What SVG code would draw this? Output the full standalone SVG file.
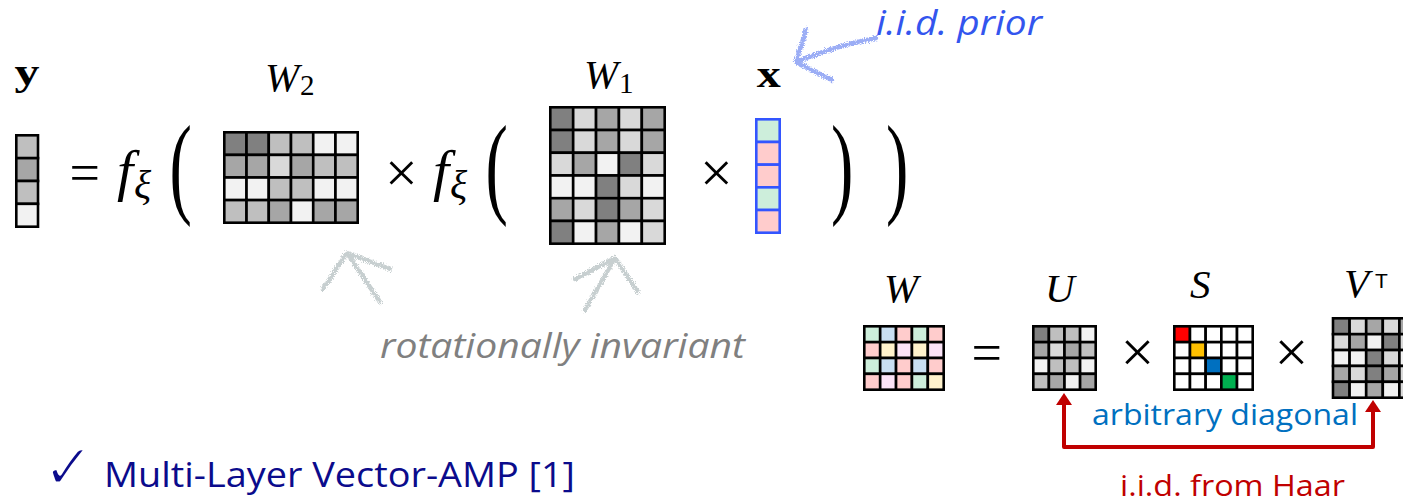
<svg xmlns="http://www.w3.org/2000/svg" width="1403" height="504" viewBox="0 0 1403 504">
<style>
.m rect{stroke:#000;stroke-width:2.6}
.mx rect{stroke:#3355ff;stroke-width:2.6}
.g1{fill:#808080}.g2{fill:#a6a6a6}.g3{fill:#bfbfbf}.g4{fill:#d9d9d9}.g5{fill:#f2f2f2}
.pg{fill:#cdeedb}.pb{fill:#c9dff2}.pp{fill:#ffcccc}.py{fill:#fff2cc}.pl{fill:#fbe3f7}.w{fill:#fff}
.tex{font-family:"Liberation Serif","Times New Roman",serif;fill:#000}
.it{font-style:italic}
.sans{font-family:"Open Sans","Liberation Sans",sans-serif}
.chalk{fill:none;stroke-linecap:round;stroke-linejoin:round;stroke-width:4.5}
</style>
<defs>
<filter id="rough" x="-30%" y="-30%" width="160%" height="160%">
<feTurbulence type="fractalNoise" baseFrequency="0.9" numOctaves="2" seed="3" result="n"/>
<feDisplacementMap in="SourceGraphic" in2="n" scale="6" xChannelSelector="R" yChannelSelector="G"/>
</filter>
<marker id="ah" viewBox="0 -8 12 16" refX="0" refY="0" markerWidth="12" markerHeight="16" markerUnits="userSpaceOnUse" orient="auto-start-reverse">
<path d="M0,-8 L12,0 L0,8 z" fill="#c00000"/>
</marker>
</defs>
<rect width="1403" height="504" fill="#fff"/>

<!-- labels top -->
<g id="label-y"><text class="tex" x="14.5" y="85" font-size="38" font-weight="bold" textLength="25" lengthAdjust="spacingAndGlyphs">y</text></g>
<g id="label-W2"><text class="tex it" x="265" y="91" font-size="41">W</text><text class="tex" x="300" y="95" font-size="29">2</text></g>
<g id="label-W1"><text class="tex it" x="584" y="88" font-size="41">W</text><text class="tex" x="619" y="93" font-size="29">1</text></g>
<g id="label-x"><text class="tex" x="756.8" y="87" font-size="38" font-weight="bold" textLength="24" lengthAdjust="spacingAndGlyphs">x</text></g>

<!-- y vector -->
<g id="vec-y" class="m">
<rect x="16.3" y="135.3" width="21.7" height="22.85" class="g3"/>
<rect x="16.3" y="158.15" width="21.7" height="22.85" class="g2"/>
<rect x="16.3" y="181" width="21.7" height="22.85" class="g3"/>
<rect x="16.3" y="203.85" width="21.7" height="22.85" class="g5"/>
</g>

<!-- equation symbols -->
<g id="eq-main">
<text class="tex" x="69.4" y="191.4" font-size="54">=</text>
<text class="tex it" x="117" y="190" font-size="58">f</text>
<text class="tex it" x="134" y="198" font-size="40">ξ</text>
<text class="tex" transform="translate(169.5,203) scale(0.6,1)" font-size="112">(</text>
<text class="tex" x="385" y="192" font-size="58">×</text>
<text class="tex it" x="433" y="190" font-size="58">f</text>
<text class="tex it" x="450" y="198" font-size="40">ξ</text>
<text class="tex" transform="translate(485.5,203) scale(0.6,1)" font-size="112">(</text>
<text class="tex" x="700" y="191.5" font-size="58">×</text>
<text class="tex" transform="translate(831,203) scale(0.6,1)" font-size="112">)</text>
<text class="tex" transform="translate(886,203) scale(0.6,1)" font-size="112">)</text>
</g>

<!-- W2 matrix -->
<g id="mat-W2" class="m">
<rect x="224.3" y="132.3" width="22.23" height="22.6" class="g1"/>
<rect x="246.53" y="132.3" width="22.23" height="22.6" class="g1"/>
<rect x="268.77" y="132.3" width="22.23" height="22.6" class="g3"/>
<rect x="291" y="132.3" width="22.23" height="22.6" class="g3"/>
<rect x="313.23" y="132.3" width="22.23" height="22.6" class="g5"/>
<rect x="335.47" y="132.3" width="22.23" height="22.6" class="g5"/>
<rect x="224.3" y="154.9" width="22.23" height="22.6" class="g2"/>
<rect x="246.53" y="154.9" width="22.23" height="22.6" class="g2"/>
<rect x="268.77" y="154.9" width="22.23" height="22.6" class="g4"/>
<rect x="291" y="154.9" width="22.23" height="22.6" class="g2"/>
<rect x="313.23" y="154.9" width="22.23" height="22.6" class="g3"/>
<rect x="335.47" y="154.9" width="22.23" height="22.6" class="g3"/>
<rect x="224.3" y="177.5" width="22.23" height="22.6" class="g5"/>
<rect x="246.53" y="177.5" width="22.23" height="22.6" class="g5"/>
<rect x="268.77" y="177.5" width="22.23" height="22.6" class="g3"/>
<rect x="291" y="177.5" width="22.23" height="22.6" class="g3"/>
<rect x="313.23" y="177.5" width="22.23" height="22.6" class="g5"/>
<rect x="335.47" y="177.5" width="22.23" height="22.6" class="g5"/>
<rect x="224.3" y="200.1" width="22.23" height="22.6" class="g3"/>
<rect x="246.53" y="200.1" width="22.23" height="22.6" class="g3"/>
<rect x="268.77" y="200.1" width="22.23" height="22.6" class="g2"/>
<rect x="291" y="200.1" width="22.23" height="22.6" class="g5"/>
<rect x="313.23" y="200.1" width="22.23" height="22.6" class="g2"/>
<rect x="335.47" y="200.1" width="22.23" height="22.6" class="g2"/>
</g>

<!-- W1 matrix -->
<g id="mat-W1" class="m">
<rect x="550.3" y="107.3" width="22.88" height="22.73" class="g1"/>
<rect x="573.18" y="107.3" width="22.88" height="22.73" class="g4"/>
<rect x="596.06" y="107.3" width="22.88" height="22.73" class="g2"/>
<rect x="618.94" y="107.3" width="22.88" height="22.73" class="g4"/>
<rect x="641.82" y="107.3" width="22.88" height="22.73" class="g2"/>
<rect x="550.3" y="130.03" width="22.88" height="22.73" class="g1"/>
<rect x="573.18" y="130.03" width="22.88" height="22.73" class="g4"/>
<rect x="596.06" y="130.03" width="22.88" height="22.73" class="g2"/>
<rect x="618.94" y="130.03" width="22.88" height="22.73" class="g4"/>
<rect x="641.82" y="130.03" width="22.88" height="22.73" class="g2"/>
<rect x="550.3" y="152.76" width="22.88" height="22.73" class="g4"/>
<rect x="573.18" y="152.76" width="22.88" height="22.73" class="g2"/>
<rect x="596.06" y="152.76" width="22.88" height="22.73" class="g5"/>
<rect x="618.94" y="152.76" width="22.88" height="22.73" class="g1"/>
<rect x="641.82" y="152.76" width="22.88" height="22.73" class="g4"/>
<rect x="550.3" y="175.49" width="22.88" height="22.73" class="g5"/>
<rect x="573.18" y="175.49" width="22.88" height="22.73" class="g5"/>
<rect x="596.06" y="175.49" width="22.88" height="22.73" class="g1"/>
<rect x="618.94" y="175.49" width="22.88" height="22.73" class="g4"/>
<rect x="641.82" y="175.49" width="22.88" height="22.73" class="g5"/>
<rect x="550.3" y="198.22" width="22.88" height="22.73" class="g2"/>
<rect x="573.18" y="198.22" width="22.88" height="22.73" class="g4"/>
<rect x="596.06" y="198.22" width="22.88" height="22.73" class="g1"/>
<rect x="618.94" y="198.22" width="22.88" height="22.73" class="g2"/>
<rect x="641.82" y="198.22" width="22.88" height="22.73" class="g4"/>
<rect x="550.3" y="220.95" width="22.88" height="22.73" class="g1"/>
<rect x="573.18" y="220.95" width="22.88" height="22.73" class="g5"/>
<rect x="596.06" y="220.95" width="22.88" height="22.73" class="g2"/>
<rect x="618.94" y="220.95" width="22.88" height="22.73" class="g5"/>
<rect x="641.82" y="220.95" width="22.88" height="22.73" class="g4"/>
</g>

<!-- x vector -->
<g id="vec-x" class="mx">
<rect x="756.3" y="119.3" width="23.4" height="22.68" class="pg"/>
<rect x="756.3" y="141.98" width="23.4" height="22.68" class="pp"/>
<rect x="756.3" y="164.66" width="23.4" height="22.68" class="pp"/>
<rect x="756.3" y="187.34" width="23.4" height="22.68" class="pg"/>
<rect x="756.3" y="210.02" width="23.4" height="22.68" class="pp"/>
</g>

<!-- annotations -->
<g id="note-prior"><text class="sans it" x="876" y="35" font-size="34" fill="#3355ee" textLength="166" lengthAdjust="spacingAndGlyphs">i.i.d. prior</text></g>
<g id="note-rot"><text class="sans it" x="380" y="358" font-size="34" fill="#808080" textLength="365" lengthAdjust="spacingAndGlyphs">rotationally invariant</text></g>

<!-- SVD labels -->
<g id="label-W"><text class="tex it" x="884" y="302" font-size="41">W</text></g>
<g id="label-U"><text class="tex it" x="1045" y="302" font-size="41">U</text></g>
<g id="label-S"><text class="tex it" x="1190" y="298" font-size="41">S</text></g>
<g id="label-VT"><text class="tex it" x="1344" y="297" font-size="41">V</text><text x="1375" y="288" font-size="21" font-family="Liberation Sans, Arial, sans-serif">T</text></g>

<g id="eq-svd">
<text class="tex" x="971.4" y="371" font-size="54">=</text>
<text class="tex" x="1120.5" y="372" font-size="60">×</text>
<text class="tex" x="1274.5" y="372" font-size="60">×</text>
</g>

<!-- W small -->
<g id="mat-W" class="m">
<rect x="864.3" y="326.3" width="15.88" height="15.85" class="pg"/>
<rect x="880.18" y="326.3" width="15.88" height="15.85" class="pb"/>
<rect x="896.06" y="326.3" width="15.88" height="15.85" class="pp"/>
<rect x="911.94" y="326.3" width="15.88" height="15.85" class="pg"/>
<rect x="927.82" y="326.3" width="15.88" height="15.85" class="pp"/>
<rect x="864.3" y="342.15" width="15.88" height="15.85" class="pp"/>
<rect x="880.18" y="342.15" width="15.88" height="15.85" class="py"/>
<rect x="896.06" y="342.15" width="15.88" height="15.85" class="pl"/>
<rect x="911.94" y="342.15" width="15.88" height="15.85" class="py"/>
<rect x="927.82" y="342.15" width="15.88" height="15.85" class="pl"/>
<rect x="864.3" y="358" width="15.88" height="15.85" class="pg"/>
<rect x="880.18" y="358" width="15.88" height="15.85" class="pb"/>
<rect x="896.06" y="358" width="15.88" height="15.85" class="pp"/>
<rect x="911.94" y="358" width="15.88" height="15.85" class="pb"/>
<rect x="927.82" y="358" width="15.88" height="15.85" class="pp"/>
<rect x="864.3" y="373.85" width="15.88" height="15.85" class="pp"/>
<rect x="880.18" y="373.85" width="15.88" height="15.85" class="pl"/>
<rect x="896.06" y="373.85" width="15.88" height="15.85" class="pp"/>
<rect x="911.94" y="373.85" width="15.88" height="15.85" class="pg"/>
<rect x="927.82" y="373.85" width="15.88" height="15.85" class="py"/>
</g>

<!-- U -->
<g id="mat-U" class="m">
<rect x="1033.3" y="326.3" width="15.6" height="15.85" class="g1"/>
<rect x="1048.9" y="326.3" width="15.6" height="15.85" class="g3"/>
<rect x="1064.5" y="326.3" width="15.6" height="15.85" class="g3"/>
<rect x="1080.1" y="326.3" width="15.6" height="15.85" class="g5"/>
<rect x="1033.3" y="342.15" width="15.6" height="15.85" class="g2"/>
<rect x="1048.9" y="342.15" width="15.6" height="15.85" class="g4"/>
<rect x="1064.5" y="342.15" width="15.6" height="15.85" class="g2"/>
<rect x="1080.1" y="342.15" width="15.6" height="15.85" class="g3"/>
<rect x="1033.3" y="358" width="15.6" height="15.85" class="g5"/>
<rect x="1048.9" y="358" width="15.6" height="15.85" class="g3"/>
<rect x="1064.5" y="358" width="15.6" height="15.85" class="g3"/>
<rect x="1080.1" y="358" width="15.6" height="15.85" class="g5"/>
<rect x="1033.3" y="373.85" width="15.6" height="15.85" class="g3"/>
<rect x="1048.9" y="373.85" width="15.6" height="15.85" class="g2"/>
<rect x="1064.5" y="373.85" width="15.6" height="15.85" class="g5"/>
<rect x="1080.1" y="373.85" width="15.6" height="15.85" class="g2"/>
</g>

<!-- S -->
<g id="mat-S" class="m">
<rect x="1174.3" y="326.3" width="15.68" height="15.85" fill="#ff0000"/>
<rect x="1189.98" y="326.3" width="15.68" height="15.85" class="w"/>
<rect x="1205.66" y="326.3" width="15.68" height="15.85" class="w"/>
<rect x="1221.34" y="326.3" width="15.68" height="15.85" class="w"/>
<rect x="1237.02" y="326.3" width="15.68" height="15.85" class="w"/>
<rect x="1174.3" y="342.15" width="15.68" height="15.85" class="w"/>
<rect x="1189.98" y="342.15" width="15.68" height="15.85" fill="#ffc000"/>
<rect x="1205.66" y="342.15" width="15.68" height="15.85" class="w"/>
<rect x="1221.34" y="342.15" width="15.68" height="15.85" class="w"/>
<rect x="1237.02" y="342.15" width="15.68" height="15.85" class="w"/>
<rect x="1174.3" y="358" width="15.68" height="15.85" class="w"/>
<rect x="1189.98" y="358" width="15.68" height="15.85" class="w"/>
<rect x="1205.66" y="358" width="15.68" height="15.85" fill="#0070c0"/>
<rect x="1221.34" y="358" width="15.68" height="15.85" class="w"/>
<rect x="1237.02" y="358" width="15.68" height="15.85" class="w"/>
<rect x="1174.3" y="373.85" width="15.68" height="15.85" class="w"/>
<rect x="1189.98" y="373.85" width="15.68" height="15.85" class="w"/>
<rect x="1205.66" y="373.85" width="15.68" height="15.85" class="w"/>
<rect x="1221.34" y="373.85" width="15.68" height="15.85" fill="#00b050"/>
<rect x="1237.02" y="373.85" width="15.68" height="15.85" class="w"/>
</g>

<!-- V^T -->
<g id="mat-VT" class="m">
<rect x="1333" y="318.3" width="16.6" height="15.88" class="g1"/>
<rect x="1349.6" y="318.3" width="16.6" height="15.88" class="g4"/>
<rect x="1366.2" y="318.3" width="16.6" height="15.88" class="g2"/>
<rect x="1382.8" y="318.3" width="16.6" height="15.88" class="g4"/>
<rect x="1399.4" y="318.3" width="16.6" height="15.88" class="g2"/>
<rect x="1333" y="334.18" width="16.6" height="15.88" class="g4"/>
<rect x="1349.6" y="334.18" width="16.6" height="15.88" class="g2"/>
<rect x="1366.2" y="334.18" width="16.6" height="15.88" class="g5"/>
<rect x="1382.8" y="334.18" width="16.6" height="15.88" class="g1"/>
<rect x="1399.4" y="334.18" width="16.6" height="15.88" class="g4"/>
<rect x="1333" y="350.06" width="16.6" height="15.88" class="g5"/>
<rect x="1349.6" y="350.06" width="16.6" height="15.88" class="g5"/>
<rect x="1366.2" y="350.06" width="16.6" height="15.88" class="g1"/>
<rect x="1382.8" y="350.06" width="16.6" height="15.88" class="g4"/>
<rect x="1399.4" y="350.06" width="16.6" height="15.88" class="g5"/>
<rect x="1333" y="365.94" width="16.6" height="15.88" class="g2"/>
<rect x="1349.6" y="365.94" width="16.6" height="15.88" class="g4"/>
<rect x="1366.2" y="365.94" width="16.6" height="15.88" class="g1"/>
<rect x="1382.8" y="365.94" width="16.6" height="15.88" class="g2"/>
<rect x="1399.4" y="365.94" width="16.6" height="15.88" class="g4"/>
<rect x="1333" y="381.82" width="16.6" height="15.88" class="g1"/>
<rect x="1349.6" y="381.82" width="16.6" height="15.88" class="g5"/>
<rect x="1366.2" y="381.82" width="16.6" height="15.88" class="g2"/>
<rect x="1382.8" y="381.82" width="16.6" height="15.88" class="g5"/>
<rect x="1399.4" y="381.82" width="16.6" height="15.88" class="g4"/>
</g>

<!-- bottom texts -->
<g id="note-diag"><text class="sans" x="1092" y="425" font-size="30" fill="#0070c0" textLength="266" lengthAdjust="spacingAndGlyphs">arbitrary diagonal</text></g>
<g id="note-haar"><text class="sans" x="1120" y="496" font-size="29" fill="#c00000" textLength="225" lengthAdjust="spacingAndGlyphs">i.i.d. from Haar</text></g>
<g id="note-mlvamp">
<text x="42" y="489" font-size="64" font-family="DejaVu Sans, sans-serif" fill="#0b0b8c" stroke="#fff" stroke-width="2.6">✓</text>
<text class="sans" x="104" y="487" font-size="35" fill="#0b0b8c" textLength="471" lengthAdjust="spacingAndGlyphs">Multi-Layer Vector-AMP [1]</text>
</g>

<!-- connectors -->
<g id="connectors">
<path d="M1064,405 V447 H1373 V412" fill="none" stroke="#c00000" stroke-width="4" stroke-linejoin="round" marker-start="url(#ah)" marker-end="url(#ah)"/>
<g filter="url(#rough)" opacity="0.6">
<path class="chalk" stroke="#5a78f0" d="M876,38 C850,43 820,52 796,62 M806,30 L796,62 L832,80"/>
<path class="chalk" stroke="#a3b0b2" d="M380,302 L347,253 M323,289 L347,253 L390,269"/>
<path class="chalk" stroke="#a3b0b2" d="M585,310 L615,258 M575,279 L615,258 L638,292"/>
</g>
</g>
</svg>
